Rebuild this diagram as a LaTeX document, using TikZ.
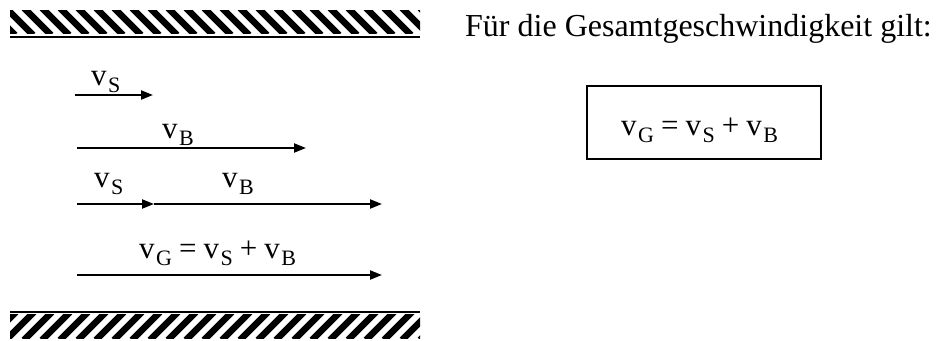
\documentclass[tikz,border=0pt]{standalone}
\usepackage{fontspec}
\setmainfont{Liberation Serif}
\usetikzlibrary{arrows.meta}
\newcommand{\vel}[1]{v\kern1.5pt\raisebox{-7pt}{\fontsize{22}{26}\selectfont #1}}
\newcommand{\velsum}{\vel{G}\hspace{7pt}=\hspace{7pt}\vel{S}\hspace{7pt}+\hspace{7pt}\vel{B}}
\begin{document}
\begin{tikzpicture}[x=1pt,y=-1pt]
	\tikzstyle{vec}=[line width=2.2pt,-{Triangle[length=12pt,width=9pt]}];
	\tikzstyle{lab}=[inner sep=0pt,anchor=base west,font=\fontsize{31}{36}\selectfont];
	\tikzstyle{hatch}=[line width=6.5pt];
	\tikzstyle{wall}=[line width=1.4pt];
\useasboundingbox (0,0) rectangle (936,340);
%<--------------------------------------------------------------------------->%

	%% Walls
	\begin{scope}
	\clip (10,10) rectangle (420,33);
	\foreach \x in {-30,-12,...,430} \draw[hatch] (\x,8) -- ++(27,27);
	\end{scope}
	\draw[wall] (10,37) -- (420,37);
	\begin{scope}
	\clip (10,314) rectangle (420,338);
	\foreach \x in {-30,-12,...,430} \draw[hatch] (\x,340) -- ++(28,-28);
	\end{scope}
	\draw[wall] (10,312) -- (420,312);
	%% Points
	\coordinate (S1) at (75,95);
	\coordinate (S1e) at (153,95);
	\coordinate (B2) at (77,148);
	\coordinate (B2e) at (306,148);
	\coordinate (S3) at (77,204);
	\coordinate (M3) at (154,204);
	\coordinate (B3e) at (382,204);
	\coordinate (G4) at (77,275);
	\coordinate (G4e) at (382,275);
	%% Arrows
	\draw[vec] (S1) -- (S1e);
	\draw[vec] (B2) -- (B2e);
	\draw[vec] (S3) -- (M3);
	\draw[vec] (M3) -- (B3e);
	\draw[vec] (G4) -- (G4e);
	%% Labels
	\node[lab] (vS1) at (91,85) {\vel{S}};
	\node[lab] (vB2) at (162,138) {\vel{B}};
	\node[lab] (vS3) at (94,187) {\vel{S}};
	\node[lab] (vB3) at (222,187) {\vel{B}};
	\node[lab] (vG4) at (139,258) {\velsum};
	%% Right side
	\node[lab,font=\fontsize{32}{38}\selectfont] (head) at (465,36) {Für die Gesamtgeschwindigkeit gilt:};
	\draw[wall] (587,86) rectangle (821,159);
	\node[lab] (sum) at (621,135) {\velsum};
\end{tikzpicture}
\end{document}
